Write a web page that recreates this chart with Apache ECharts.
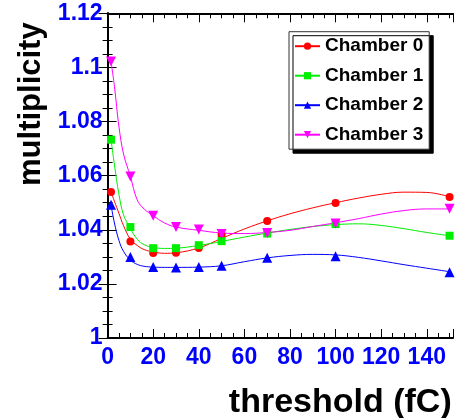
<!DOCTYPE html>
<html>
<head>
<meta charset="utf-8">
<script src="https://cdn.jsdelivr.net/npm/echarts@6/dist/echarts.min.js"></script>
<style>
html,body{margin:0;padding:0;background:#fff;}
#chart{width:457px;height:418px;}
</style>
</head>
<body>
<div id="chart"></div>
<script>
// ---- data ----
var chamberNames = ['Chamber 0', 'Chamber 1', 'Chamber 2', 'Chamber 3'];
var thresholds = [1.5, 10, 20, 30, 40, 50, 70, 100, 150];
var chamber0 = [1.054, 1.0357, 1.0314, 1.0315, 1.0333, 1.0382, 1.0432, 1.0499, 1.0521];
var chamber1 = [1.0733, 1.041, 1.0332, 1.0332, 1.0343, 1.0358, 1.0386, 1.0421, 1.0378];
var chamber2 = [1.0492, 1.0299, 1.0262, 1.0261, 1.0262, 1.0267, 1.0297, 1.0302, 1.0243];
var chamber3 = [1.1022, 1.0597, 1.0452, 1.041, 1.0401, 1.0384, 1.0388, 1.0423, 1.0478];

// fitted curves
var fitX  = [1.5, 3, 5, 7, 10, 13, 16, 20, 25, 30, 40, 50, 60, 70, 80, 90, 100, 110, 120, 130, 140, 150];
var fit0  = [1.054, 1.0505, 1.046, 1.0415, 1.0365, 1.0342, 1.0327, 1.0318, 1.0313, 1.0315, 1.0333, 1.0368, 1.0403, 1.0433, 1.0459, 1.0481, 1.05, 1.0517, 1.0531, 1.0539, 1.0538, 1.0522];
var fit1  = [1.0733, 1.064, 1.053, 1.0455, 1.0405, 1.0365, 1.0345, 1.0335, 1.0331, 1.0332, 1.0342, 1.0357, 1.0373, 1.0388, 1.0401, 1.0412, 1.0419, 1.0422, 1.0416, 1.0404, 1.039, 1.0378];
var fit2  = [1.0492, 1.0425, 1.036, 1.032, 1.0288, 1.0272, 1.0265, 1.0262, 1.0261, 1.0261, 1.0262, 1.0267, 1.0282, 1.0296, 1.0305, 1.0309, 1.0307, 1.0298, 1.0285, 1.0271, 1.0258, 1.0245];
var fit3  = [1.1022, 1.093, 1.078, 1.068, 1.0597, 1.051, 1.0477, 1.0452, 1.0425, 1.041, 1.0398, 1.0388, 1.0386, 1.039, 1.0398, 1.0412, 1.0426, 1.0441, 1.0458, 1.0471, 1.0477, 1.0477];

var xMin = 0, xMax = 151.5, xStep = 20;
var yMin = 1, yMax = 1.12, yStep = 0.02;
var xTitle = 'threshold (fC)';
var yTitle = 'multiplicity';

// ---- styling ----
var colors = ['#ff0000', '#00ee00', '#0000ff', '#ff00ff'];
var symbols = ['circle', 'rect', 'triangle', 'triangle'];
var rotations = [0, 0, 0, 180];
var symSizes = [8, 8, 10, 10];
var FONT = 'Liberation Sans, Arial, Helvetica, sans-serif';

function pairs(xs, ys) { return xs.map(function (x, i) { return [x, ys[i]]; }); }
var markerData = [chamber0, chamber1, chamber2, chamber3];
var fitData = [fit0, fit1, fit2, fit3];

var axisLine = { show: true, lineStyle: { color: '#000', width: 2 } };
function xAxisDef(pos, main) {
  return {
    type: 'value', position: pos, min: xMin, max: xMax, interval: xStep,
    axisLine: axisLine,
    axisTick: { show: true, inside: true, length: 9, lineStyle: { color: '#000', width: 1 } },
    minorTick: { show: true, splitNumber: 4, length: 5, lineStyle: { color: '#000', width: 1 } },
    splitLine: { show: false },
    axisLabel: main ? { show: true, color: '#0000ff', fontSize: 23, fontWeight: 'bold', fontFamily: FONT, margin: 8, showMaxLabel: false } : { show: false },
    name: main ? xTitle : '',
    nameLocation: 'middle', nameGap: 48,
    nameTextStyle: { fontSize: 34, fontWeight: 'bold', fontFamily: FONT, color: '#000', align: 'center', verticalAlign: 'top', padding: [0, 0, 0, 120] }
  };
}
function yAxisDef(pos, main) {
  return {
    type: 'value', position: pos, min: yMin, max: yMax, interval: yStep,
    axisLine: axisLine,
    axisTick: { show: true, inside: true, length: 9, lineStyle: { color: '#000', width: 1 } },
    minorTick: { show: true, splitNumber: 4, length: 5, lineStyle: { color: '#000', width: 1 } },
    splitLine: { show: false },
    axisLabel: main ? { show: true, color: '#0000ff', fontSize: 23, fontWeight: 'bold', fontFamily: FONT, margin: 5 } : { show: false },
    name: main ? yTitle : '',
    nameLocation: 'middle', nameRotate: 90, nameGap: 60,
    nameTextStyle: { fontSize: 31, fontWeight: 'bold', fontFamily: FONT, color: '#000', align: 'center', verticalAlign: 'bottom', padding: [0, 0, 0, 143] }
  };
}

var series = [];
chamberNames.forEach(function (nm, i) {
  series.push({
    name: nm, type: 'line', xAxisIndex: 0, yAxisIndex: 0,
    data: pairs(fitX, fitData[i]), smooth: 0.4,
    symbol: symbols[i], symbolRotate: rotations[i], showSymbol: false,
    itemStyle: { color: colors[i] },
    lineStyle: { color: colors[i], width: 1 },
    z: 2, silent: true
  });
});
chamberNames.forEach(function (nm, i) {
  series.push({
    name: nm + ' points', type: 'scatter', xAxisIndex: 0, yAxisIndex: 0,
    data: pairs(thresholds, markerData[i]),
    symbol: symbols[i], symbolRotate: rotations[i], symbolSize: symSizes[i],
    itemStyle: { color: colors[i], opacity: 1 },
    z: 3
  });
});

var chart = echarts.init(document.getElementById('chart'), null, { renderer: 'canvas' });
chart.setOption({
  animation: false,
  backgroundColor: '#fff',
  grid: { left: 107.6, right: 4, top: 13.3, bottom: 80, containLabel: false, outerBoundsMode: 'none' },
  xAxis: [xAxisDef('bottom', true), xAxisDef('top', false)],
  yAxis: [yAxisDef('left', true), yAxisDef('right', false)],
  legend: {
    data: chamberNames,
    orient: 'vertical', left: 289, top: 31.7,
    padding: [5, 6, 5, 5], itemGap: 10.5, itemWidth: 25, itemHeight: 9,
    backgroundColor: '#fff', borderColor: '#333', borderWidth: 1,
    shadowColor: '#000', shadowBlur: 0, shadowOffsetX: 4, shadowOffsetY: 4,
    textStyle: { fontSize: 19, fontWeight: 'bold', fontFamily: FONT, color: '#000' },
    selectedMode: false
  },
  series: series
});
</script>
</body>
</html>
